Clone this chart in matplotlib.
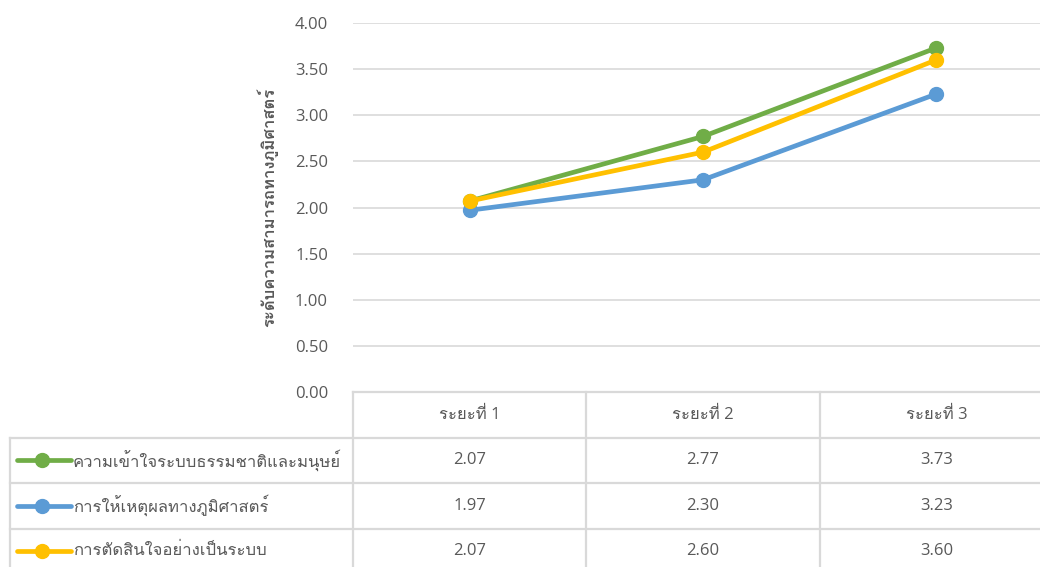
import matplotlib
matplotlib.use("Agg")
import matplotlib.pyplot as plt
from matplotlib import font_manager
from matplotlib.ft2font import FT2Font

# series and categories
phases = ["ระยะที่ 1", "ระยะที่ 2", "ระยะที่ 3"]
series_names = [
    "ความเข้าใจระบบธรรมชาติและมนุษย์",
    "การให้เหตุผลทางภูมิศาสตร์",
    "การตัดสินใจอย่างเป็นระบบ",
]
understanding = [2.07, 2.77, 3.73]
reasoning = [1.97, 2.30, 3.23]
decision = [2.07, 2.60, 3.60]
colors = ["#70AD47", "#5B9BD5", "#FFC000"]
y_ticks = [0.0, 0.5, 1.0, 1.5, 2.0, 2.5, 3.0, 3.5, 4.0]
y_title = "ระดับความสามารถทางภูมิศาสตร์"


def find_thai_family():
    for entry in font_manager.fontManager.ttflist:
        try:
            if 0x0E01 in FT2Font(entry.fname).get_charmap():
                return entry.name
        except Exception:
            continue
    for path in font_manager.findSystemFonts():
        try:
            if 0x0E01 in FT2Font(path).get_charmap():
                font_manager.fontManager.addfont(path)
                return font_manager.FontProperties(fname=path).get_name()
        except Exception:
            continue
    return None


# Latin digits from Open Sans, Thai glyphs from whatever font covers them
thai = find_thai_family()
families = ["Open Sans"] + ([thai] if thai else []) + ["DejaVu Sans"]
plt.rcParams["font.family"] = families

W, H = 1040, 567
fig = plt.figure(figsize=(W / 100, H / 100), dpi=100)

# layout in pixels
left, right = 353, 1053
top, base = 23, 392
row_h = 45.5
grid_c = "#D9D9D9"
text_c = "#595959"

ax = fig.add_axes([left / W, 1 - base / H, (right - left) / W, (base - top) / H])
xs = range(len(phases))
all_series = [understanding, reasoning, decision]
for vals, c, name in zip(all_series, colors, series_names):
    ax.plot(xs, vals, color=c, lw=3.4, marker="o", ms=10, label=name,
            solid_capstyle="round", zorder=3)
ax.set_xlim(-0.5, len(phases) - 0.5)
ax.set_ylim(0, 4)
ax.set_yticks(y_ticks)
ax.set_yticklabels([f"{v:.2f}" for v in y_ticks], color=text_c, fontsize=12)
ax.tick_params(axis="y", length=0, pad=18)
ax.set_xticks([])
ax.grid(axis="y", color=grid_c, lw=1.2)
ax.set_axisbelow(True)
for s in ax.spines.values():
    s.set_visible(False)
ax.set_ylabel(y_title, fontsize=12, fontweight="bold", color=text_c, labelpad=12)

# data table under the plot, drawn in pixel coordinates
tb = fig.add_axes([0, 0, 1, 1], facecolor="none")
tb.set_xlim(0, W)
tb.set_ylim(H, 0)
tb.axis("off")

col_w = (right - left) / len(phases)
leg_left = 10
lw_tab = 1.6
# horizontal rules
tb.plot([left, W], [base, base], color=grid_c, lw=lw_tab)
for i in range(1, len(series_names) + 1):
    y = base + i * row_h
    tb.plot([leg_left, W], [y, y], color=grid_c, lw=lw_tab)
# vertical rules
tb.plot([leg_left, leg_left], [base + row_h, H], color=grid_c, lw=lw_tab)
for j in range(len(phases)):
    x = left + j * col_w
    tb.plot([x, x], [base, H], color=grid_c, lw=lw_tab)

for j, p in enumerate(phases):
    tb.text(left + (j + 0.5) * col_w, base + row_h / 2, p, ha="center",
            va="center", fontsize=12, color=text_c)

for i, (name, vals, c) in enumerate(zip(series_names, all_series, colors)):
    yc = base + (i + 1.5) * row_h
    tb.plot([17, 71], [yc, yc], color=c, lw=3.4, solid_capstyle="round")
    tb.plot([42], [yc], marker="o", ms=10, color=c)
    tb.text(73, yc, name, ha="left", va="center", fontsize=12, color=text_c)
    for j, v in enumerate(vals):
        tb.text(left + (j + 0.5) * col_w, yc, f"{v:.2f}", ha="center",
                va="center", fontsize=12, color=text_c)

fig.savefig("out.png", dpi=100)
